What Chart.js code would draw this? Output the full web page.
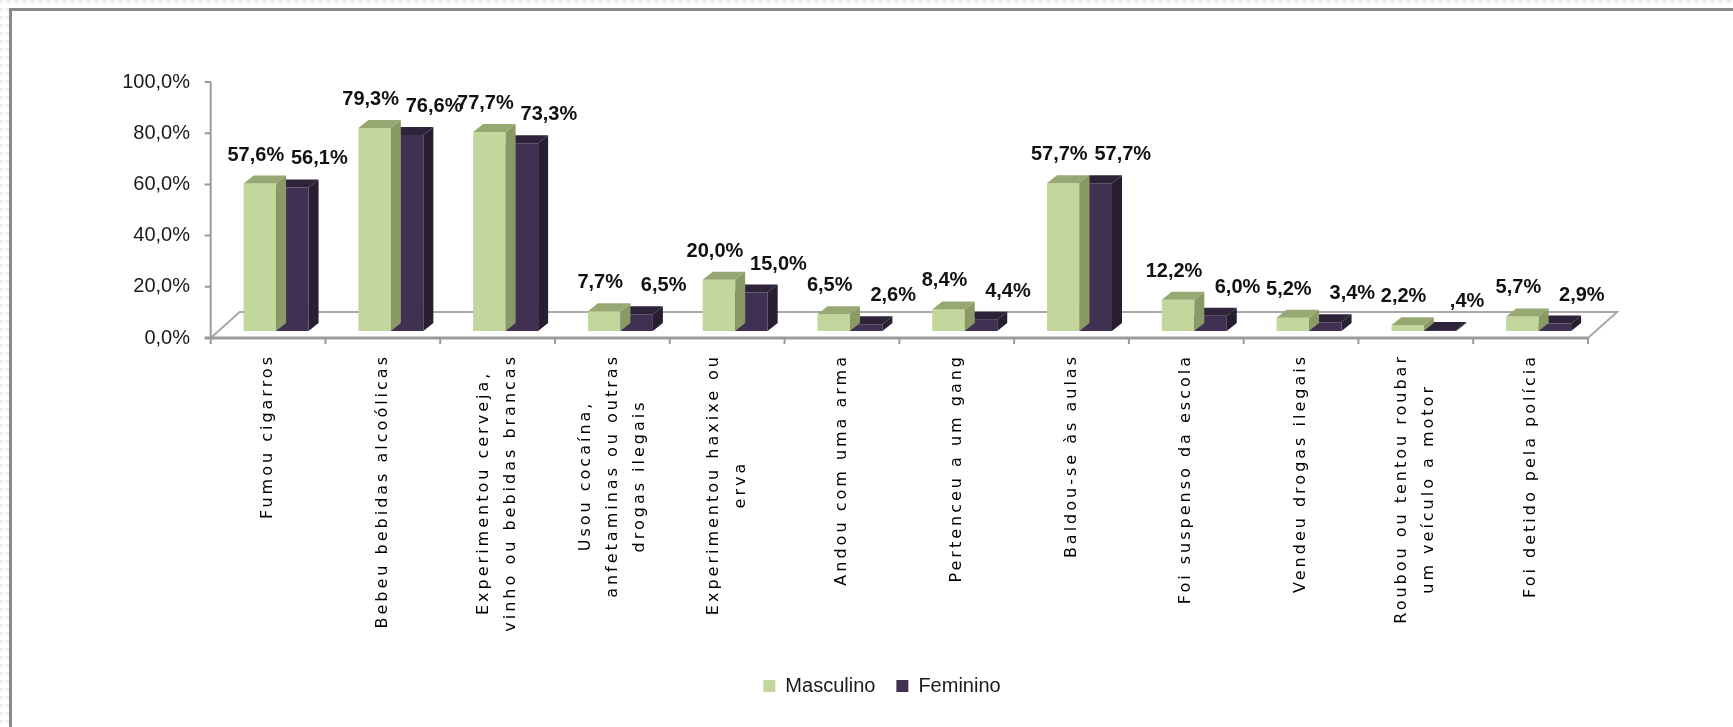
<!DOCTYPE html>
<html>
<head>
<meta charset="utf-8">
<script src="https://cdn.jsdelivr.net/npm/chart.js@4.4.0/dist/chart.umd.min.js"></script>
<style>
  body { margin: 0; background: #fff; }
  #wrap { position: relative; width: 1733px; height: 727px; overflow: hidden; background: #fff; }
  .zz { position: absolute; left: 0; top: 0;
        background-image: linear-gradient(135deg, #ececec 25%, transparent 25%),
                          linear-gradient(225deg, #ececec 25%, transparent 25%);
        background-size: 8px 8px; }
  #zzTop { width: 1733px; height: 8px; }
  #zzLeft { width: 9px; height: 727px; }
  #frame { position: absolute; left: 9px; top: 8px; right: 0; bottom: 0;
           border-top: 3px solid #8a8a8a; border-left: 3px solid #8a8a8a; background: #fff; }
  #cvs { position: absolute; left: 0; top: 0; }
</style>
</head>
<body>
<div id="wrap">
  <div id="zzTop" class="zz"></div>
  <div id="zzLeft" class="zz"></div>
  <div id="frame"></div>
  <canvas id="cvs" width="1733" height="727"></canvas>
</div>
<script>
var categories = [
    'Fumou cigarros',
    'Bebeu bebidas alcoólicas',
    ['Experimentou cerveja,', 'vinho ou bebidas brancas'],
    ['Usou cocaína,', 'anfetaminas ou outras', 'drogas ilegais'],
    ['Experimentou haxixe ou', 'erva'],
    'Andou com uma arma',
    'Pertenceu a um gang',
    'Baldou-se às aulas',
    'Foi suspenso da escola',
    'Vendeu drogas ilegais',
    ['Roubou ou tentou roubar', 'um veículo a motor'],
    'Foi detido pela polícia'
];
var masculino = [57.6, 79.3, 77.7, 7.7, 20.0, 6.5, 8.4, 57.7, 12.2, 5.2, 2.2, 5.7];
var feminino  = [56.1, 76.6, 73.3, 6.5, 15.0, 2.6, 4.4, 57.7, 6.0, 3.4, 0.4, 2.9];
var yTicks = [0, 20, 40, 60, 80, 100];

var frontColors = ['#c3d69b', '#403152'];
var topColors   = ['#97a873', '#2e2439'];
var sideColors  = ['#8a9a66', '#271e31'];
var labelShift  = [-4, 27];

var FONT = '"Liberation Sans", Arial, sans-serif';

// 3d look: front plane is offset from the bar plane, floor has depth
var FRONT_X = -8, FRONT_Y = 7;
var DEPTH_X = 29, DEPTH_Y = -26;
var BAR_DX = 10, BAR_DY = -8;

function pct(v, keepZero) {
    var s = v.toFixed(1).replace('.', ',');
    if (!keepZero && v < 1) s = s.replace(/^0/, '');
    return s + '%';
}

function poly(ctx, pts, color) {
    ctx.fillStyle = color;
    ctx.beginPath();
    ctx.moveTo(pts[0][0], pts[0][1]);
    for (var i = 1; i < pts.length; i++) ctx.lineTo(pts[i][0], pts[i][1]);
    ctx.closePath();
    ctx.fill();
}

var threeD = {
    id: 'threeD',
    beforeDatasetsDraw: function(chart) {
        var ctx = chart.ctx, xs = chart.scales.x, ys = chart.scales.y;
        var y0 = ys.getPixelForValue(0) + FRONT_Y;
        var xl = xs.left + FRONT_X, xr = xs.right + FRONT_X;
        ctx.save();
        ctx.strokeStyle = '#a8a8a8';
        ctx.lineWidth = 2;
        ctx.beginPath();
        ctx.moveTo(xl, y0);
        ctx.lineTo(xl + DEPTH_X, y0 + DEPTH_Y);
        ctx.lineTo(xr + DEPTH_X, y0 + DEPTH_Y);
        ctx.lineTo(xr, y0);
        ctx.stroke();

        ctx.strokeStyle = '#9a9a9a';
        ctx.lineWidth = 3;
        ctx.beginPath();
        ctx.moveTo(xl - 6, y0);
        ctx.lineTo(xr, y0);
        ctx.stroke();

        ctx.lineWidth = 2;
        ctx.beginPath();
        for (var i = 0; i <= categories.length; i++) {
            var tx = xl + i * (xr - xl) / categories.length;
            ctx.moveTo(tx, y0);
            ctx.lineTo(tx, y0 + 6);
        }
        ctx.moveTo(xl, ys.getPixelForValue(100) + FRONT_Y);
        ctx.lineTo(xl, y0);
        yTicks.forEach(function(v) {
            var ty = ys.getPixelForValue(v) + FRONT_Y;
            ctx.moveTo(xl - 6, ty);
            ctx.lineTo(xl, ty);
        });
        ctx.stroke();
        ctx.restore();
    },
    afterDatasetDraw: function(chart, args) {
        var ctx = chart.ctx, k = args.index;
        ctx.save();
        args.meta.data.forEach(function(bar) {
            var p = bar.getProps(['x', 'y', 'base', 'width'], true);
            var l = p.x - p.width / 2, r = p.x + p.width / 2;
            poly(ctx, [[r, p.y], [r + BAR_DX, p.y + BAR_DY], [r + BAR_DX, p.base + BAR_DY], [r, p.base]], sideColors[k]);
            poly(ctx, [[l, p.y], [l + BAR_DX, p.y + BAR_DY], [r + BAR_DX, p.y + BAR_DY], [r, p.y]], topColors[k]);
        });
        ctx.restore();
    },
    afterDatasetsDraw: function(chart) {
        var ctx = chart.ctx, xs = chart.scales.x, ys = chart.scales.y;
        ctx.save();
        // value labels
        ctx.font = 'bold 20px ' + FONT;
        ctx.fillStyle = '#111';
        ctx.textAlign = 'center';
        ctx.textBaseline = 'alphabetic';
        chart.data.datasets.forEach(function(ds, k) {
            chart.getDatasetMeta(k).data.forEach(function(bar, i) {
                ctx.fillText(pct(ds.data[i]), bar.x + labelShift[k], bar.y - 23);
            });
        });
        // category labels, rotated, lines centred on each other
        ctx.font = '16px "DejaVu Sans"';
        ctx.letterSpacing = '3px';
        ctx.fillStyle = '#000';
        ctx.textBaseline = 'middle';
        var top = ys.getPixelForValue(0) + FRONT_Y + 16;
        var lh = 27;
        categories.forEach(function(lab, i) {
            var lines = Array.isArray(lab) ? lab : [lab];
            var w = 0;
            lines.forEach(function(t) { w = Math.max(w, ctx.measureText(t).width); });
            ctx.save();
            ctx.translate(xs.getPixelForValue(i) + FRONT_X, top);
            ctx.rotate(-Math.PI / 2);
            lines.forEach(function(t, j) {
                ctx.fillText(t, -w / 2, (j - (lines.length - 1) / 2) * lh);
            });
            ctx.restore();
        });
        ctx.restore();
    }
};

var config = {
    type: 'bar',
    data: {
        labels: categories,
        datasets: [{
            label: 'Masculino',
            data: masculino,
            backgroundColor: frontColors[0],
            borderWidth: 0
        }, {
            label: 'Feminino',
            data: feminino,
            backgroundColor: frontColors[1],
            borderWidth: 0
        }]
    },
    options: {
        responsive: false,
        animation: false,
        devicePixelRatio: 1,
        events: [],
        datasets: {
            bar: { categoryPercentage: 0.566, barPercentage: 1 }
        },
        layout: {
            padding: { left: 31, right: 0, top: 75, bottom: 21 }
        },
        plugins: {
            tooltip: { enabled: false },
            legend: {
                position: 'bottom',
                labels: {
                    boxWidth: 12,
                    boxHeight: 12,
                    padding: 21,
                    color: '#1a1a1a',
                    font: { family: FONT, size: 20 }
                }
            }
        },
        scales: {
            x: {
                grid: { display: false, drawTicks: false },
                border: { display: false },
                ticks: { display: false },
                afterFit: function(s) { s.height = 324; }
            },
            y: {
                min: 0,
                max: 100,
                grid: { display: false, drawTicks: false },
                border: { display: false },
                ticks: {
                    stepSize: 20,
                    padding: 28.7,
                    labelOffset: 7,
                    color: '#1a1a1a',
                    font: { family: FONT, size: 20 },
                    callback: function(v) { return pct(v, true); }
                },
                afterFit: function(s) { s.width = 187.7; }
            },
            y2: {
                position: 'right',
                grid: { display: false, drawTicks: false },
                border: { display: false },
                ticks: { display: false },
                afterFit: function(s) { s.width = 137; }
            }
        }
    },
    plugins: [threeD]
};

window.onload = function() {
    window.myBar = new Chart(document.getElementById('cvs'), config);
};
</script>
</body>
</html>
